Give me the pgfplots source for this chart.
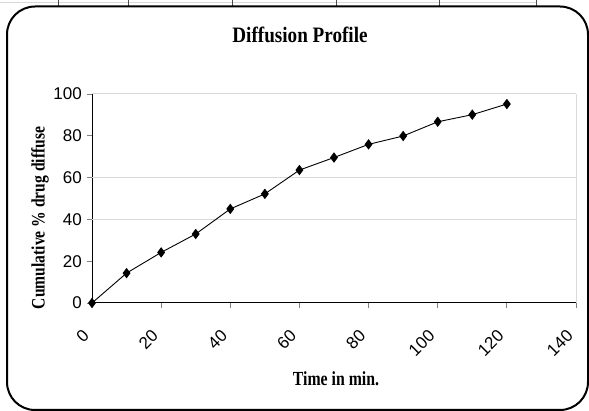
\documentclass[border=0pt]{standalone}
\usepackage{fontspec}
\setmainfont{Liberation Serif}
\newfontfamily\arialfont{Liberation Sans}
\usepackage{graphicx}
\usepackage{pgfplots}
\pgfplotsset{compat=1.18}
\definecolor{gridgray}{RGB}{217,217,217}
\pgfplotstableread{
t y
0 0
10 14.3
20 24.2
30 33.0
40 45.0
50 52.2
60 63.6
70 69.6
80 75.9
90 79.9
100 86.7
110 90.1
120 95.2
}\diffdata
\begin{document}
\begin{tikzpicture}[x=1pt,y=1pt]
\useasboundingbox (0,0) rectangle (589,411);
\draw[gridgray, line width=1pt] (0,408) -- (536,408);
\foreach \xx in {58,128,232,336,439,536} \draw[black!70, line width=0.8pt] (\xx,411) -- (\xx,404);
\draw[line width=2pt, rounded corners=28pt] (7,404.5) rectangle (588,1);
\node[anchor=base] at (300,368) {\fontsize{22}{26}\selectfont\bfseries\scalebox{0.87}[1]{Diffusion Profile}};
\node[anchor=base] at (336,25) {\fontsize{20}{24}\selectfont\bfseries\scalebox{0.79}[1]{Time in min.}};
\node[rotate=90] at (40,193) {\fontsize{19}{23}\selectfont\bfseries\scalebox{0.82}[1]{Cumulative \% drug diffuse}};
\begin{axis}[
  at={(92pt,108pt)}, anchor=south west,
  scale only axis, width=484pt, height=209pt,
  xmin=0, xmax=140, ymin=0, ymax=100,
  axis x line*=bottom, axis y line*=left,
  axis line style={black, line width=1pt},
  xtick={0,20,...,140}, ytick={0,20,...,100},
  tick align=outside, major tick length=5pt,
  tick style={gray, line width=0.8pt},
  extra y ticks={40,60,100}, extra y tick labels={},
  extra y tick style={grid=major},
  extra x ticks={140}, extra x tick labels={},
  extra x tick style={grid=major},
  grid style={gridgray, line width=1pt},
  /pgf/number format/assume math mode=true,
  ticklabel style={font=\arialfont\fontsize{17}{20}\selectfont},
  yticklabel style={anchor=east, inner sep=0pt, xshift=-5pt},
  xticklabel style={anchor=east, inner sep=0pt, xshift=-6pt, yshift=-25pt, rotate=45},
  clip=false,
]
\addplot[black, line width=0.9pt, mark=diamond*, mark size=4.5pt, mark options={solid, fill=black}] table[x=t, y=y] {\diffdata};
\end{axis}
\end{tikzpicture}
\end{document}
